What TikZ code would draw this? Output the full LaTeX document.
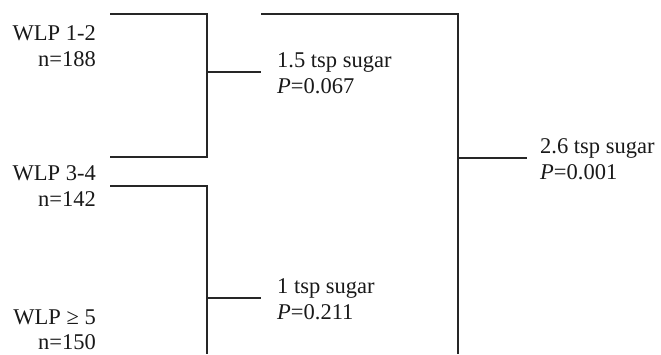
\documentclass[tikz,border=0pt]{standalone}
\usepackage{fontspec}
\setmainfont{Liberation Serif}
\begin{document}
\begin{tikzpicture}[x=1pt,y=-1pt,
  lbl/.style={inner sep=0pt,font=\fontsize{22.5}{27}\selectfont,text=black!90},
  rlbl/.style={lbl,anchor=base east},
  llbl/.style={lbl,anchor=base west},
  link/.style={draw=black!85,line width=1.4pt}]
\useasboundingbox (0,0) rectangle (661,354);
% group labels
\node[rlbl] (g1a) at (96,40) {WLP 1-2};
\node[rlbl] (g1b) at (96,66) {n=188};
\node[rlbl] (g2a) at (96,180) {WLP 3-4};
\node[rlbl] (g2b) at (96,206) {n=142};
\node[rlbl] (g3a) at (96,324) {WLP ≥ 5};
\node[rlbl] (g3b) at (96,349) {n=150};
% result labels
\node[llbl] (r1a) at (277,67) {1.5 tsp sugar};
\node[llbl] (r1b) at (277,93) {\textit{P}=0.067};
\node[llbl] (r2a) at (277,293) {1 tsp sugar};
\node[llbl] (r2b) at (277,319) {\textit{P}=0.211};
\node[llbl] (r3a) at (540,153) {2.6 tsp sugar};
\node[llbl] (r3b) at (540,179) {\textit{P}=0.001};
% bracket points
\coordinate (a1) at (110,14);
\coordinate (a2) at (207,14);
\coordinate (a3) at (207,157);
\coordinate (a4) at (110,157);
\coordinate (am) at (207,72);
\coordinate (ae) at (261,72);
\coordinate (b1) at (110,186);
\coordinate (b2) at (207,186);
\coordinate (b3) at (207,354);
\coordinate (bm) at (207,298);
\coordinate (be) at (261,298);
\coordinate (c1) at (261,14);
\coordinate (c2) at (458,14);
\coordinate (c3) at (458,354);
\coordinate (cm) at (458,158);
\coordinate (ce) at (527,158);
% connectors
\draw[link] (a1) -- (a2) -- (a3) -- (a4);
\draw[link] (am) -- (ae);
\draw[link] (b1) -- (b2) -- (b3);
\draw[link] (bm) -- (be);
\draw[link] (c1) -- (c2) -- (c3);
\draw[link] (cm) -- (ce);
\end{tikzpicture}
\end{document}
